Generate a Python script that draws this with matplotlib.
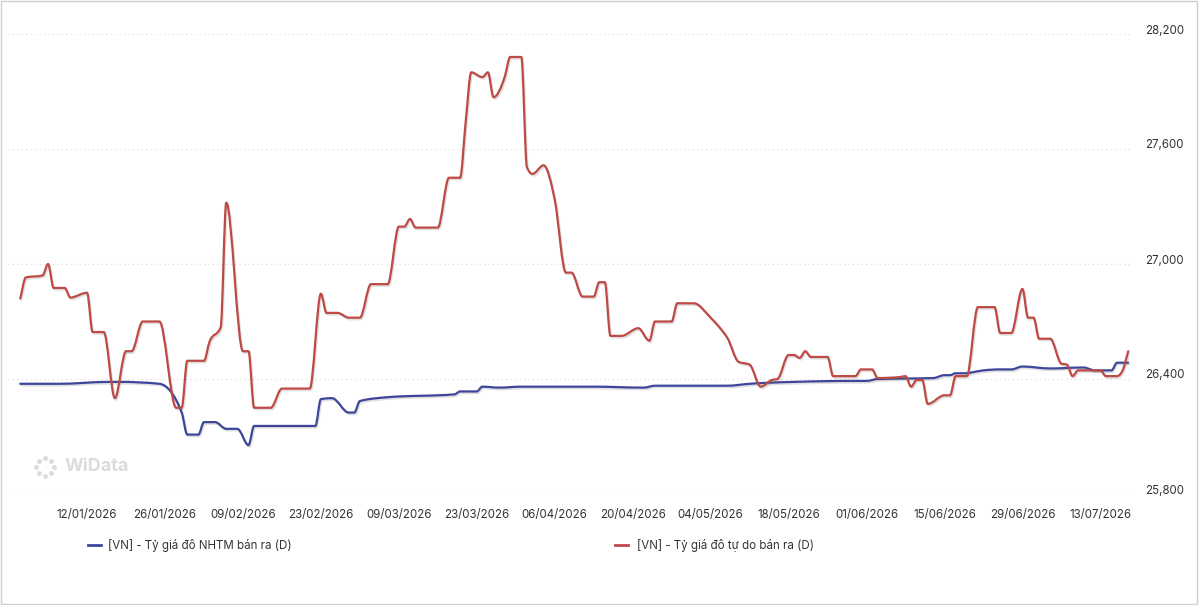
import numpy as np
import pandas as pd
import matplotlib
matplotlib.use('Agg')
import matplotlib.pyplot as plt
import matplotlib.dates as mdates
import matplotlib.patheffects as pe
from matplotlib.lines import Line2D
from matplotlib.patches import Rectangle, PathPatch
from matplotlib.path import Path
from matplotlib.transforms import ScaledTranslation

# Data (VND per USD)
nhtm_dates = ['31/12/2025', '07/01/2026', '16/01/2026', '18/01/2026', '25/01/2026', '29/01/2026',
              '30/01/2026', '01/02/2026', '02/02/2026', '04/02/2026', '06/02/2026', '08/02/2026',
              '10/02/2026', '11/02/2026', '22/02/2026', '23/02/2026', '25/02/2026', '28/02/2026',
              '01/03/2026', '02/03/2026', '07/03/2026', '19/03/2026', '20/03/2026', '23/03/2026',
              '24/03/2026', '27/03/2026', '31/03/2026', '09/04/2026', '13/04/2026', '22/04/2026',
              '24/04/2026', '07/05/2026', '11/05/2026', '14/05/2026', '19/05/2026', '29/05/2026',
              '01/06/2026', '03/06/2026', '13/06/2026', '15/06/2026', '16/06/2026', '17/06/2026',
              '19/06/2026', '20/06/2026', '22/06/2026', '25/06/2026', '27/06/2026', '29/06/2026',
              '04/07/2026', '10/07/2026', '12/07/2026', '15/07/2026', '16/07/2026', '18/07/2026']
nhtm_values = [26375, 26375, 26385, 26385, 26375, 26225,
               26110, 26110, 26175, 26175, 26140, 26140,
               26055, 26155, 26155, 26295, 26300, 26225,
               26225, 26285, 26305, 26320, 26335, 26335,
               26360, 26355, 26360, 26360, 26360, 26355,
               26365, 26365, 26375, 26380, 26385, 26390,
               26390, 26400, 26405, 26420, 26420, 26430,
               26430, 26435, 26445, 26450, 26450, 26465,
               26455, 26460, 26445, 26445, 26485, 26485]

free_dates = ['31/12/2025', '01/01/2026', '04/01/2026', '05/01/2026', '06/01/2026', '08/01/2026',
              '09/01/2026', '12/01/2026', '13/01/2026', '15/01/2026', '17/01/2026', '19/01/2026',
              '20/01/2026', '22/01/2026', '25/01/2026', '28/01/2026', '29/01/2026', '30/01/2026',
              '02/02/2026', '03/02/2026', '05/02/2026', '06/02/2026', '09/02/2026', '10/02/2026',
              '11/02/2026', '14/02/2026', '16/02/2026', '21/02/2026', '23/02/2026', '24/02/2026',
              '26/02/2026', '28/02/2026', '02/03/2026', '04/03/2026', '07/03/2026', '09/03/2026',
              '10/03/2026', '11/03/2026', '12/03/2026', '16/03/2026', '18/03/2026', '20/03/2026',
              '21/03/2026', '22/03/2026', '24/03/2026', '25/03/2026', '26/03/2026', '28/03/2026',
              '29/03/2026', '31/03/2026', '01/04/2026', '02/04/2026', '04/04/2026', '06/04/2026',
              '08/04/2026', '09/04/2026', '11/04/2026', '13/04/2026', '14/04/2026', '15/04/2026',
              '16/04/2026', '18/04/2026', '21/04/2026', '23/04/2026', '24/04/2026', '27/04/2026',
              '28/04/2026', '01/05/2026', '04/05/2026', '06/05/2026', '07/05/2026', '09/05/2026',
              '11/05/2026', '13/05/2026', '15/05/2026', '16/05/2026', '18/05/2026', '19/05/2026',
              '20/05/2026', '21/05/2026', '22/05/2026', '25/05/2026', '26/05/2026', '30/05/2026',
              '31/05/2026', '02/06/2026', '03/06/2026', '07/06/2026', '08/06/2026', '09/06/2026',
              '10/06/2026', '11/06/2026', '12/06/2026', '15/06/2026', '16/06/2026', '17/06/2026',
              '19/06/2026', '21/06/2026', '24/06/2026', '25/06/2026', '27/06/2026', '29/06/2026',
              '30/06/2026', '01/07/2026', '02/07/2026', '04/07/2026', '06/07/2026', '07/07/2026',
              '08/07/2026', '09/07/2026', '13/07/2026', '14/07/2026', '16/07/2026', '17/07/2026',
              '18/07/2026']
free_values = [26820, 26930, 26940, 27000, 26875, 26875,
               26825, 26850, 26645, 26645, 26300, 26545,
               26545, 26700, 26700, 26250, 26250, 26495,
               26495, 26595, 26670, 27320, 26545, 26545,
               26250, 26250, 26350, 26350, 26845, 26745,
               26745, 26720, 26720, 26895, 26895, 27195,
               27195, 27235, 27190, 27190, 27450, 27450,
               27740, 28000, 27975, 28000, 27870, 27975,
               28080, 28080, 27505, 27470, 27515, 27335,
               26955, 26955, 26830, 26830, 26905, 26905,
               26625, 26625, 26665, 26600, 26700, 26700,
               26795, 26795, 26720, 26655, 26615, 26490,
               26475, 26360, 26395, 26400, 26525, 26525,
               26510, 26545, 26515, 26515, 26415, 26415,
               26450, 26450, 26405, 26410, 26415, 26360,
               26395, 26395, 26270, 26315, 26315, 26415,
               26415, 26775, 26775, 26640, 26640, 26870,
               26720, 26720, 26610, 26610, 26480, 26475,
               26415, 26445, 26445, 26415, 26415, 26445,
               26545]

nhtm_label = '[VN] - Tỷ giá đô NHTM bán ra (D)'
free_label = '[VN] - Tỷ giá đô tự do bán ra (D)'
y_ticks = [25800, 26400, 27000, 27600, 28200]

blue = '#3d4699'
red = '#bd4a45'


def monotone_path(x, y):
    # cubic bezier path through the points, monotone between them (like d3 curveMonotoneX)
    x = np.asarray(x, float)
    y = np.asarray(y, float)
    h = np.diff(x)
    d = np.diff(y) / h
    m = np.zeros(len(x))
    m[0], m[-1] = d[0], d[-1]
    for k in range(1, len(x) - 1):
        if d[k - 1] * d[k] <= 0:
            m[k] = 0
        else:
            s = (d[k - 1] * h[k] + d[k] * h[k - 1]) / (h[k - 1] + h[k])
            m[k] = np.sign(d[k]) * min(abs(d[k - 1]), abs(d[k]), 0.5 * abs(s)) * 2
    verts = [(x[0], y[0])]
    codes = [Path.MOVETO]
    for k in range(len(x) - 1):
        dx = h[k] / 3
        verts += [(x[k] + dx, y[k] + m[k] * dx), (x[k + 1] - dx, y[k + 1] - m[k + 1] * dx), (x[k + 1], y[k + 1])]
        codes += [Path.CURVE4] * 3
    return Path(verts, codes)


plt.rcParams['font.family'] = ['Inter', 'DejaVu Sans']

fig = plt.figure(figsize=(12, 6.05), dpi=100)
ax = fig.add_axes([8 / 1200, 1 - 494 / 605, (1131 - 8) / 1200, 460 / 605])

shadow = [pe.SimpleLineShadow(offset=(0.8, -1.2), alpha=0.18, shadow_color='#555555'), pe.Normal()]

x_nhtm = mdates.date2num(pd.to_datetime(nhtm_dates, format='%d/%m/%Y'))
x_free = mdates.date2num(pd.to_datetime(free_dates, format='%d/%m/%Y'))
for xs, ys, c, z in [(x_nhtm, nhtm_values, blue, 3), (x_free, free_values, red, 4)]:
    ax.add_patch(PathPatch(monotone_path(xs, ys), fill=False, edgecolor=c, lw=1.6,
                           joinstyle='round', capstyle='round', path_effects=shadow, zorder=z))

ax.xaxis_date()
base = pd.Timestamp('2026-01-12')
ax.set_xlim(base - pd.Timedelta(days=14.2), base + pd.Timedelta(days=187.5))
ax.set_ylim(25800, 28200)

# Axes styling
for s in ax.spines.values():
    s.set_visible(False)
ax.grid(axis='y', color='#d9d9d9', linestyle=(0, (1, 3)), linewidth=0.8)
ax.set_axisbelow(True)

ax.set_xticks(pd.date_range('2026-01-12', periods=14, freq='14D'))
ax.xaxis.set_major_formatter(mdates.DateFormatter('%d/%m/%Y'))
ax.tick_params(axis='x', length=0, pad=11, labelsize=8.3, labelcolor='#333333')

ax.yaxis.tick_right()
ax.set_yticks(y_ticks)
ax.set_yticklabels([f'{v:,}' for v in y_ticks])
ax.tick_params(axis='y', length=0, pad=10, labelsize=8.3, labelcolor='#333333')
for lbl in ax.get_yticklabels():
    lbl.set_transform(lbl.get_transform() + ScaledTranslation(0, 0.05, fig.dpi_scale_trans))

# Watermark
ax.text(0.05, 0.06, 'WiData', transform=ax.transAxes, fontsize=13, color='#dcdcdc',
        ha='left', va='center', fontweight='bold')
ang = np.linspace(0, 2 * np.pi, 8, endpoint=False)
fig.add_artist(Line2D(45 / 1200 + 0.0075 * np.cos(ang), 1 - 467 / 605 + 0.015 * np.sin(ang),
                      ls='none', marker='o', ms=2.5, color='#dcdcdc'))

# Legend drawn below the plot
fig.add_artist(Line2D([88 / 1200, 101 / 1200], [1 - 545 / 605] * 2, color=blue, lw=2))
fig.text(108 / 1200, 1 - 545 / 605, nhtm_label, fontsize=8.3, color='#333333', va='center')
fig.add_artist(Line2D([615 / 1200, 628 / 1200], [1 - 545 / 605] * 2, color=red, lw=2))
fig.text(637 / 1200, 1 - 545 / 605, free_label, fontsize=8.3, color='#333333', va='center')

# Light frame around the figure
fig.add_artist(Rectangle((0.0005, 0.002), 0.997, 0.996, transform=fig.transFigure,
                         fill=False, edgecolor='#cfcfcf', lw=1))

fig.savefig('out.png', dpi=100, facecolor='white')
